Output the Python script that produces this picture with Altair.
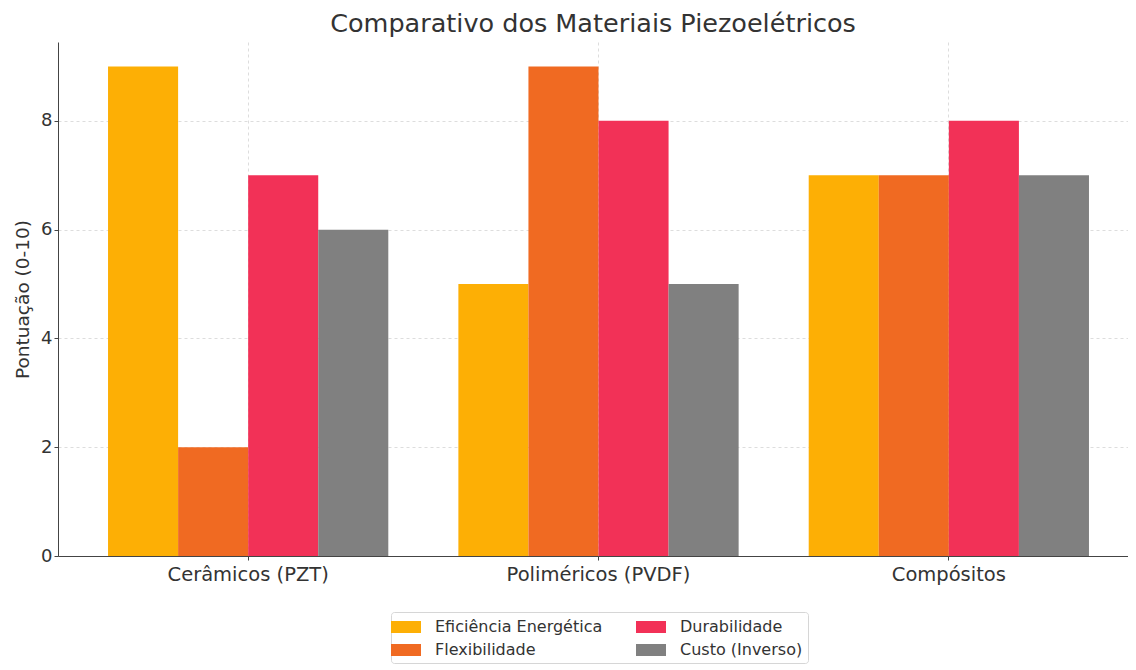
import altair as alt
import pandas as pd

materials = ["Cerâmicos (PZT)", "Poliméricos (PVDF)", "Compósitos"]
series = ["Eficiência Energética", "Flexibilidade", "Durabilidade", "Custo (Inverso)"]
eficiencia = [9, 5, 7]
flexibilidade = [2, 9, 7]
durabilidade = [7, 8, 8]
custo = [6, 5, 7]
colors = ["#FDAF05", "#F06A22", "#F23157", "#808080"]

rows = []
for s, vals in zip(series, [eficiencia, flexibilidade, durabilidade, custo]):
    for m, v in zip(materials, vals):
        rows.append({"Material": m, "Série": s, "Valor": v})
df = pd.DataFrame(rows)

font = "DejaVu Sans"
chart = alt.Chart(df).mark_bar().encode(
    x=alt.X("Material:N", sort=materials, title=None,
            scale=alt.Scale(paddingInner=0, paddingOuter=0.0271, align=0.79),
            axis=alt.Axis(labelAngle=0, labelFontSize=19.5, labelColor="#333333",
                          labelFont=font, labelLimit=400, grid=True, gridDash=[3, 3],
                          gridColor="#dddddd", bandPosition=0.5, tickSize=4,
                          tickColor="#444444", domainColor="#444444", labelPadding=5)),
    xOffset=alt.XOffset("Série:N", sort=series,
                        scale=alt.Scale(paddingInner=0, paddingOuter=0.5)),
    y=alt.Y("Valor:Q", title="Pontuação (0-10)",
            scale=alt.Scale(domain=[0, 9.45], nice=False),
            axis=alt.Axis(values=[0, 2, 4, 6, 8], labelFontSize=18, labelColor="#333333",
                          labelFont=font, titleFont=font, titleFontSize=18.5,
                          titleFontWeight="normal", titleColor="#333333",
                          gridDash=[3, 3], gridColor="#dddddd", tickSize=4,
                          tickColor="#444444", domainColor="#444444", titlePadding=8)),
    color=alt.Color("Série:N",
                    scale=alt.Scale(domain=series, range=colors),
                    legend=alt.Legend(title=None, orient="none", legendX=333, legendY=570,
                                      columns=2, columnPadding=33, rowPadding=5,
                                      labelFont=font, labelFontSize=16, labelColor="#333333",
                                      symbolType="M-1.5,-0.6L1.5,-0.6L1.5,0.6L-1.5,0.6Z",
                                      symbolSize=400, symbolStrokeWidth=0, symbolOpacity=1,
                                      labelOffset=19, labelLimit=300,
                                      strokeColor="#d6d6d6", cornerRadius=3, padding=5,
                                      fillColor="white")),
).properties(
    width=1070, height=514,
    title=alt.TitleParams("Comparativo dos Materiais Piezoelétricos", font=font,
                          fontSize=25.5, fontWeight="normal", color="#333333",
                          anchor="middle", offset=5),
    padding={"left": 50, "top": 34, "right": 0, "bottom": 110},
    autosize=alt.AutoSizeParams(type="none"),
).configure_view(stroke=None)

chart.save("out.html", embed_options={"renderer": "svg", "actions": False})
